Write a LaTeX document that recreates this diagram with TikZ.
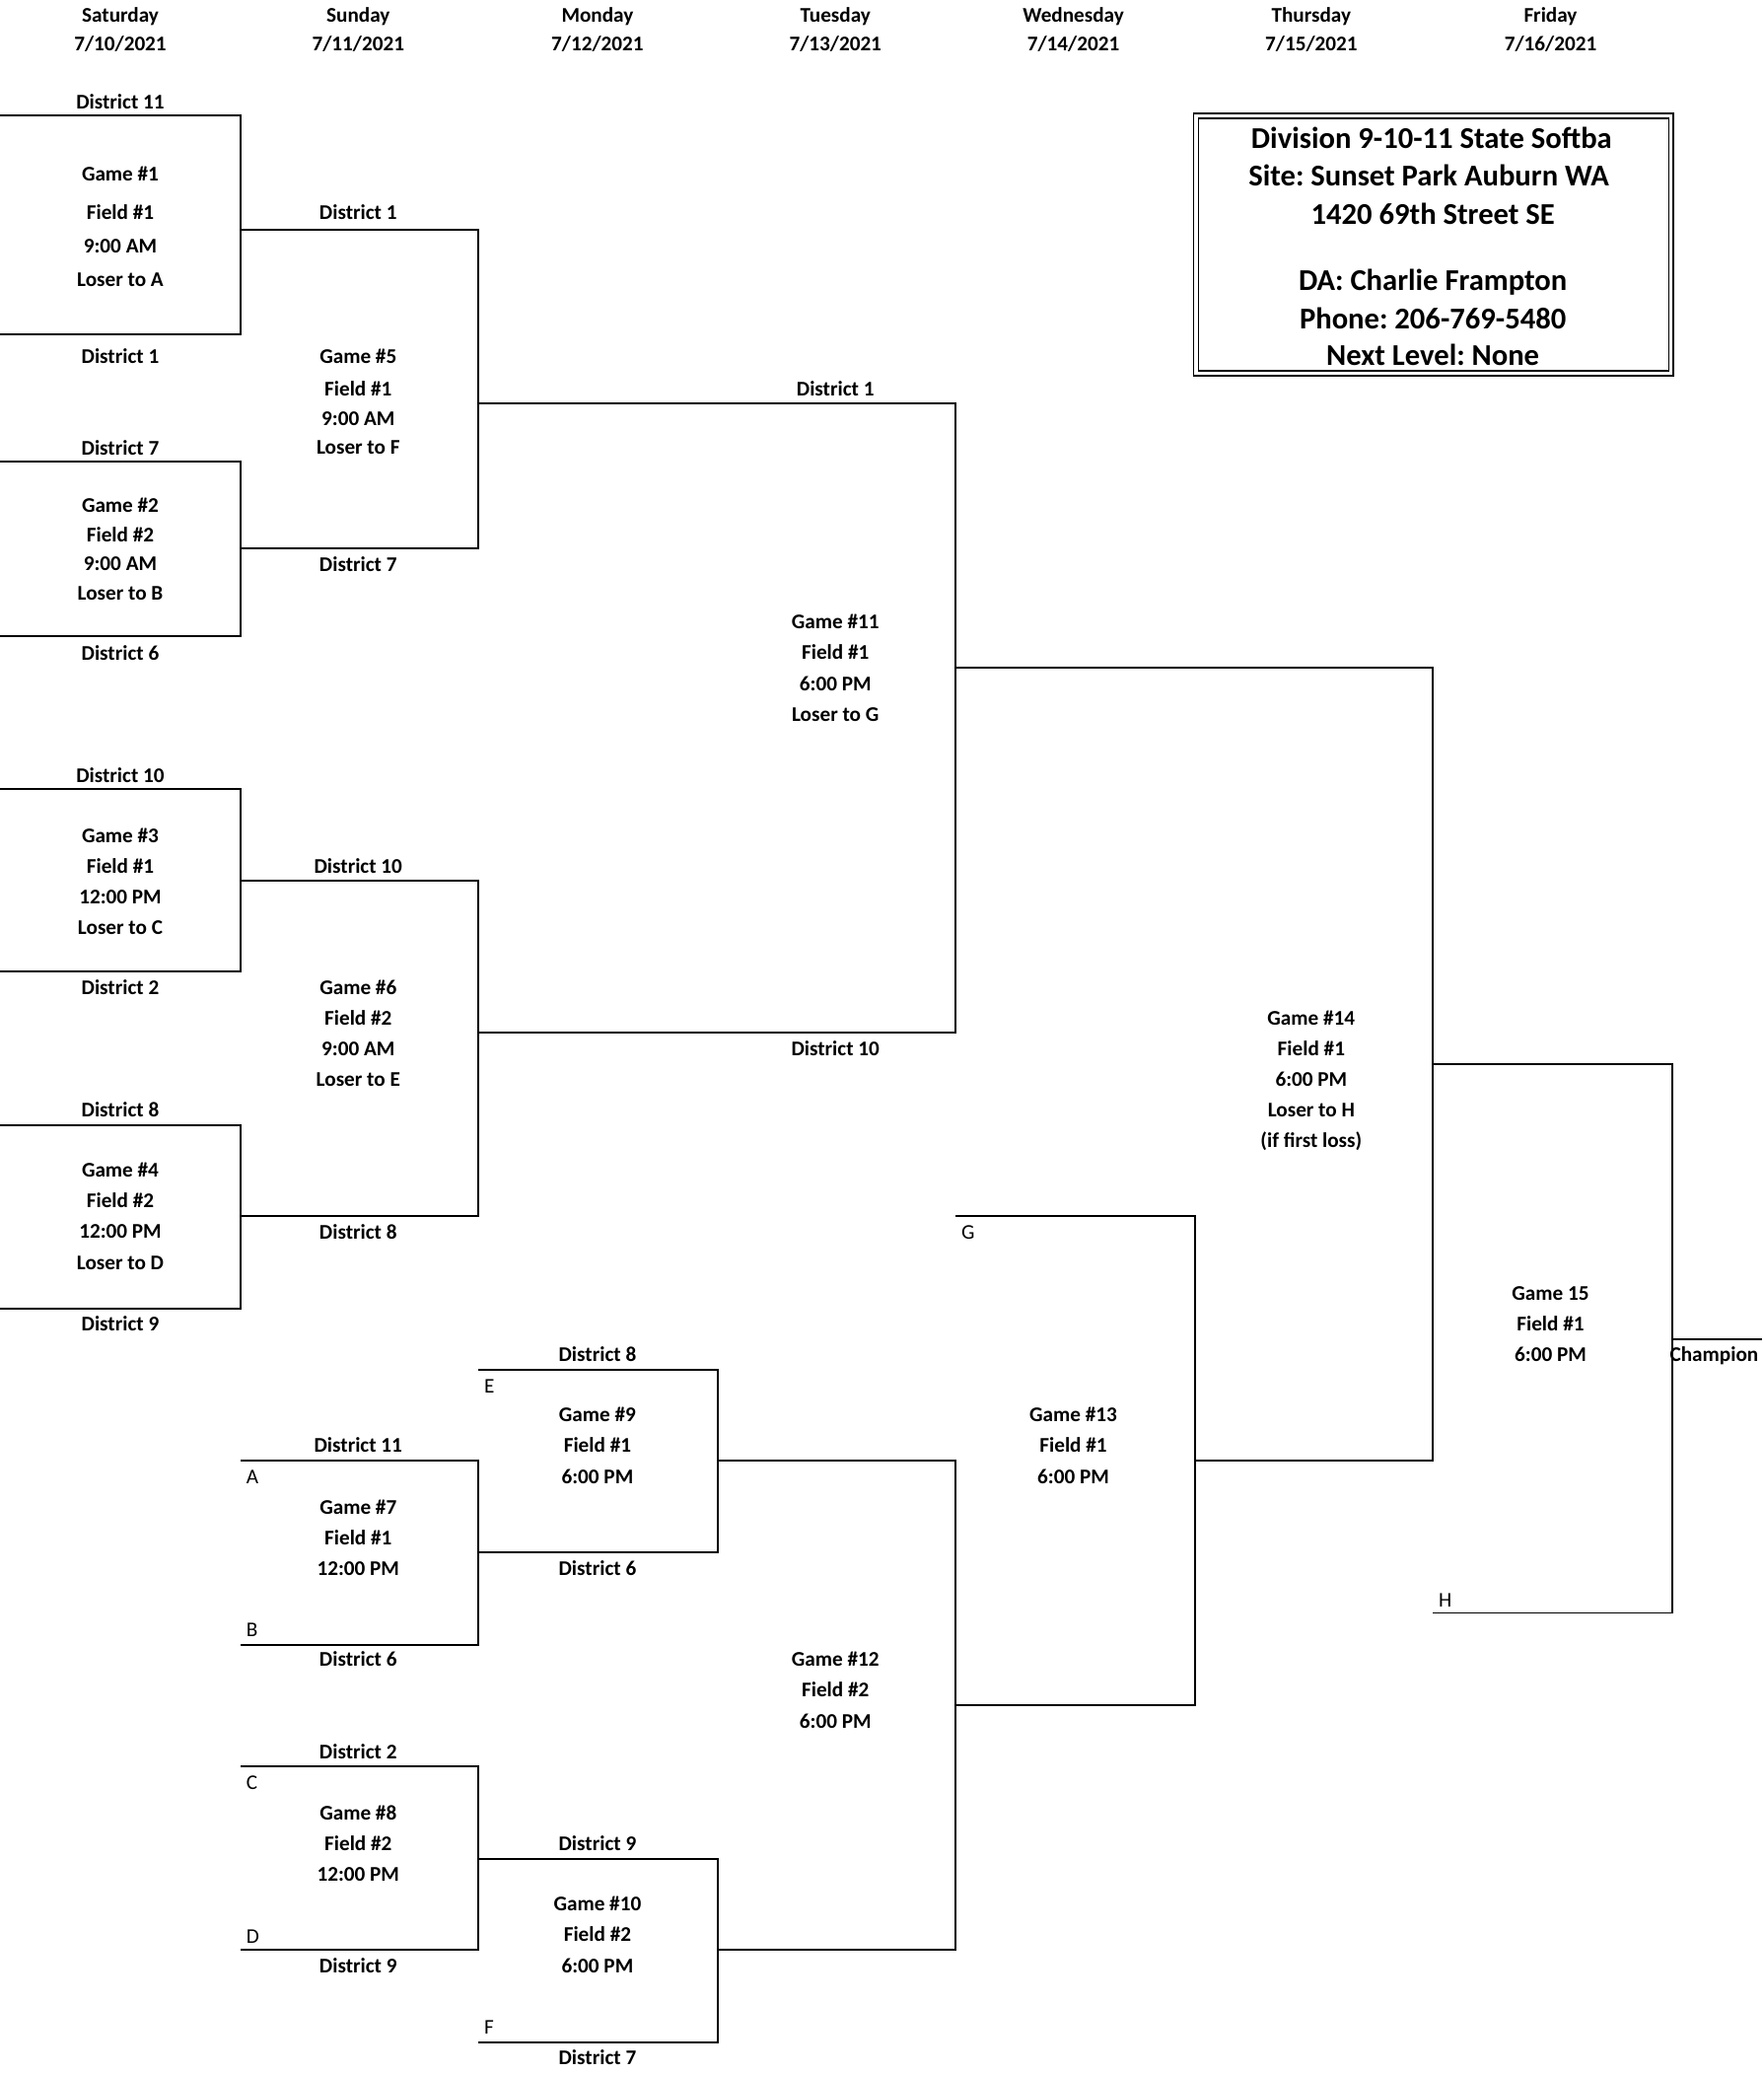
\documentclass[tikz,border=0pt]{standalone}
\usepackage{fontspec}
\setmainfont{Carlito}
\frenchspacing
\begin{document}
\begin{tikzpicture}[x=0.02cm,y=-0.02cm,
  lbl/.style={font=\bfseries\fontsize{9}{11}\selectfont, inner sep=0pt, text height=0.64em, text depth=0pt},
  ltr/.style={font=\fontsize{9}{11}\selectfont, inner sep=0pt, text height=0.64em, text depth=0pt, anchor=west},
  ttl/.style={font=\bfseries\fontsize{13}{15}\selectfont, inner sep=0pt, text height=0.64em, text depth=0pt},
  br/.style={line width=0.8pt, line join=miter}]
\useasboundingbox (0,0) rectangle (1334,1568);

% ---------- header ----------
\node[lbl] (d1) at (91,11) {Saturday};   \node[lbl] (e1) at (91,33) {7/10/2021};
\node[lbl] (d2) at (271,11) {Sunday};    \node[lbl] (e2) at (271,33) {7/11/2021};
\node[lbl] (d3) at (452,11) {Monday};    \node[lbl] (e3) at (452,33) {7/12/2021};
\node[lbl] (d4) at (632,11) {Tuesday};   \node[lbl] (e4) at (632,33) {7/13/2021};
\node[lbl] (d5) at (812,11) {Wednesday}; \node[lbl] (e5) at (812,33) {7/14/2021};
\node[lbl] (d6) at (992,11) {Thursday};  \node[lbl] (e6) at (992,33) {7/15/2021};
\node[lbl] (d7) at (1173,11) {Friday};   \node[lbl] (e7) at (1173,33) {7/16/2021};

% ---------- title box ----------
\draw[line width=0.7pt] (903,86) rectangle (1266,284);
\draw[line width=0.5pt] (906.5,89.5) rectangle (1262.5,280.5);
\node[ttl] (ti1) at (1083,107) {Division 9-10-11 State Softba};
\node[ttl] (ti2) at (1081,135) {Site: Sunset Park Auburn WA};
\node[ttl] (ti3) at (1084,164) {1420 69th Street SE};
\node[ttl] (ti4) at (1084,214) {DA: Charlie Frampton};
\node[ttl] (ti5) at (1084,243) {Phone: 206-769-5480};
\node[ttl] (ti6) at (1084,271) {Next Level: None};

% ---------- bracket lines ----------
% Game 1, 2, 5
\draw[br] (0,87) -- (182,87) -- (182,253) -- (0,253);
\draw[br] (0,349) -- (182,349) -- (182,481) -- (0,481);
\draw[br] (182,174) -- (362,174) -- (362,415) -- (182,415);
% Game 3, 4, 6
\draw[br] (0,597) -- (182,597) -- (182,735) -- (0,735);
\draw[br] (0,851) -- (182,851) -- (182,990) -- (0,990);
\draw[br] (182,666) -- (362,666) -- (362,920) -- (182,920);
% Game 11
\draw[br] (362,305) -- (723,305) -- (723,781) -- (362,781);
% Game 14
\draw[br] (723,505) -- (1084,505) -- (1084,1105) -- (904,1105);
% Game 15
\draw[br] (1084,805) -- (1265,805) -- (1265,1220) -- (1084,1220);
\draw[br] (1265,1013) -- (1333,1013);
% Game 13
\draw[br] (723,920) -- (904,920) -- (904,1290) -- (723,1290);
% Game 12
\draw[br] (543,1105) -- (723,1105) -- (723,1475) -- (543,1475);
% Game 9, 10
\draw[br] (362,1036) -- (543,1036) -- (543,1174) -- (362,1174);
\draw[br] (362,1406) -- (543,1406) -- (543,1545) -- (362,1545);
% Game 7, 8
\draw[br] (182,1105) -- (362,1105) -- (362,1244) -- (182,1244);
\draw[br] (182,1336) -- (362,1336) -- (362,1475) -- (182,1475);

% ---------- Game 1 ----------
\node[lbl] (g1a) at (91,77) {District 11};
\node[lbl] (g1b) at (91,131) {Game \#1};
\node[lbl] (g1c) at (91,160) {Field \#1};
\node[lbl] (g1d) at (91,186) {9:00 AM};
\node[lbl] (g1e) at (91,211) {Loser to A};
\node[lbl] (g1f) at (91,269) {District 1};
% ---------- Game 2 ----------
\node[lbl] (g2a) at (91,339) {District 7};
\node[lbl] (g2b) at (91,382) {Game \#2};
\node[lbl] (g2c) at (91,404) {Field \#2};
\node[lbl] (g2d) at (91,426) {9:00 AM};
\node[lbl] (g2e) at (91,448) {Loser to B};
\node[lbl] (g2f) at (91,494) {District 6};
% ---------- Game 3 ----------
\node[lbl] (g3a) at (91,586) {District 10};
\node[lbl] (g3b) at (91,632) {Game \#3};
\node[lbl] (g3c) at (91,655) {Field \#1};
\node[lbl] (g3d) at (91,678) {12:00 PM};
\node[lbl] (g3e) at (91,701) {Loser to C};
\node[lbl] (g3f) at (91,747) {District 2};
% ---------- Game 4 ----------
\node[lbl] (g4a) at (91,839) {District 8};
\node[lbl] (g4b) at (91,885) {Game \#4};
\node[lbl] (g4c) at (91,908) {Field \#2};
\node[lbl] (g4d) at (91,931) {12:00 PM};
\node[lbl] (g4e) at (91,955) {Loser to D};
\node[lbl] (g4f) at (91,1001) {District 9};
% ---------- Game 5 ----------
\node[lbl] (g5a) at (271,160) {District 1};
\node[lbl] (g5b) at (271,269) {Game \#5};
\node[lbl] (g5c) at (271,294) {Field \#1};
\node[lbl] (g5d) at (271,316) {9:00 AM};
\node[lbl] (g5e) at (271,338) {Loser to F};
\node[lbl] (g5f) at (271,427) {District 7};
% ---------- Game 6 ----------
\node[lbl] (g6a) at (271,655) {District 10};
\node[lbl] (g6b) at (271,747) {Game \#6};
\node[lbl] (g6c) at (271,770) {Field \#2};
\node[lbl] (g6d) at (271,793) {9:00 AM};
\node[lbl] (g6e) at (271,816) {Loser to E};
\node[lbl] (g6f) at (271,932) {District 8};
% ---------- Game 11 ----------
\node[lbl] (g11a) at (632,294) {District 1};
\node[lbl] (g11b) at (632,470) {Game \#11};
\node[lbl] (g11c) at (632,493) {Field \#1};
\node[lbl] (g11d) at (632,517) {6:00 PM};
\node[lbl] (g11e) at (632,540) {Loser to G};
\node[lbl] (g11f) at (632,793) {District 10};
% ---------- Game 14 ----------
\node[lbl] (g14b) at (992,770) {Game \#14};
\node[lbl] (g14c) at (992,793) {Field \#1};
\node[lbl] (g14d) at (992,816) {6:00 PM};
\node[lbl] (g14e) at (992,839) {Loser to H};
\node[lbl] (g14f) at (992,862) {(if first loss)};
% ---------- Game 15 ----------
\node[lbl] (g15b) at (1173,978) {Game 15};
\node[lbl] (g15c) at (1173,1001) {Field \#1};
\node[lbl] (g15d) at (1173,1024) {6:00 PM};
\node[lbl, anchor=west] (champ) at (1263,1024) {Champion};
\node[ltr] (lH) at (1088,1210) {H};
% ---------- Game 13 ----------
\node[ltr] (lG) at (727,932) {G};
\node[lbl] (g13b) at (812,1070) {Game \#13};
\node[lbl] (g13c) at (812,1093) {Field \#1};
\node[lbl] (g13d) at (812,1117) {6:00 PM};
% ---------- Game 12 ----------
\node[lbl] (g12b) at (632,1255) {Game \#12};
\node[lbl] (g12c) at (632,1278) {Field \#2};
\node[lbl] (g12d) at (632,1302) {6:00 PM};
% ---------- Game 9 ----------
\node[lbl] (g9a) at (452,1024) {District 8};
\node[ltr] (lE) at (366,1048) {E};
\node[lbl] (g9b) at (452,1070) {Game \#9};
\node[lbl] (g9c) at (452,1093) {Field \#1};
\node[lbl] (g9d) at (452,1117) {6:00 PM};
\node[lbl] (g9f) at (452,1186) {District 6};
% ---------- Game 7 ----------
\node[lbl] (g7a) at (271,1093) {District 11};
\node[ltr] (lA) at (186,1117) {A};
\node[lbl] (g7b) at (271,1140) {Game \#7};
\node[lbl] (g7c) at (271,1163) {Field \#1};
\node[lbl] (g7d) at (271,1186) {12:00 PM};
\node[ltr] (lB) at (186,1232) {B};
\node[lbl] (g7f) at (271,1255) {District 6};
% ---------- Game 8 ----------
\node[lbl] (g8a) at (271,1325) {District 2};
\node[ltr] (lC) at (186,1348) {C};
\node[lbl] (g8b) at (271,1371) {Game \#8};
\node[lbl] (g8c) at (271,1394) {Field \#2};
\node[lbl] (g8d) at (271,1417) {12:00 PM};
\node[ltr] (lD) at (186,1464) {D};
\node[lbl] (g8f) at (271,1487) {District 9};
% ---------- Game 10 ----------
\node[lbl] (g10a) at (452,1394) {District 9};
\node[lbl] (g10b) at (452,1440) {Game \#10};
\node[lbl] (g10c) at (452,1463) {Field \#2};
\node[lbl] (g10d) at (452,1487) {6:00 PM};
\node[ltr] (lF) at (366,1533) {F};
\node[lbl] (g10f) at (452,1556) {District 7};
\end{tikzpicture}
\end{document}
